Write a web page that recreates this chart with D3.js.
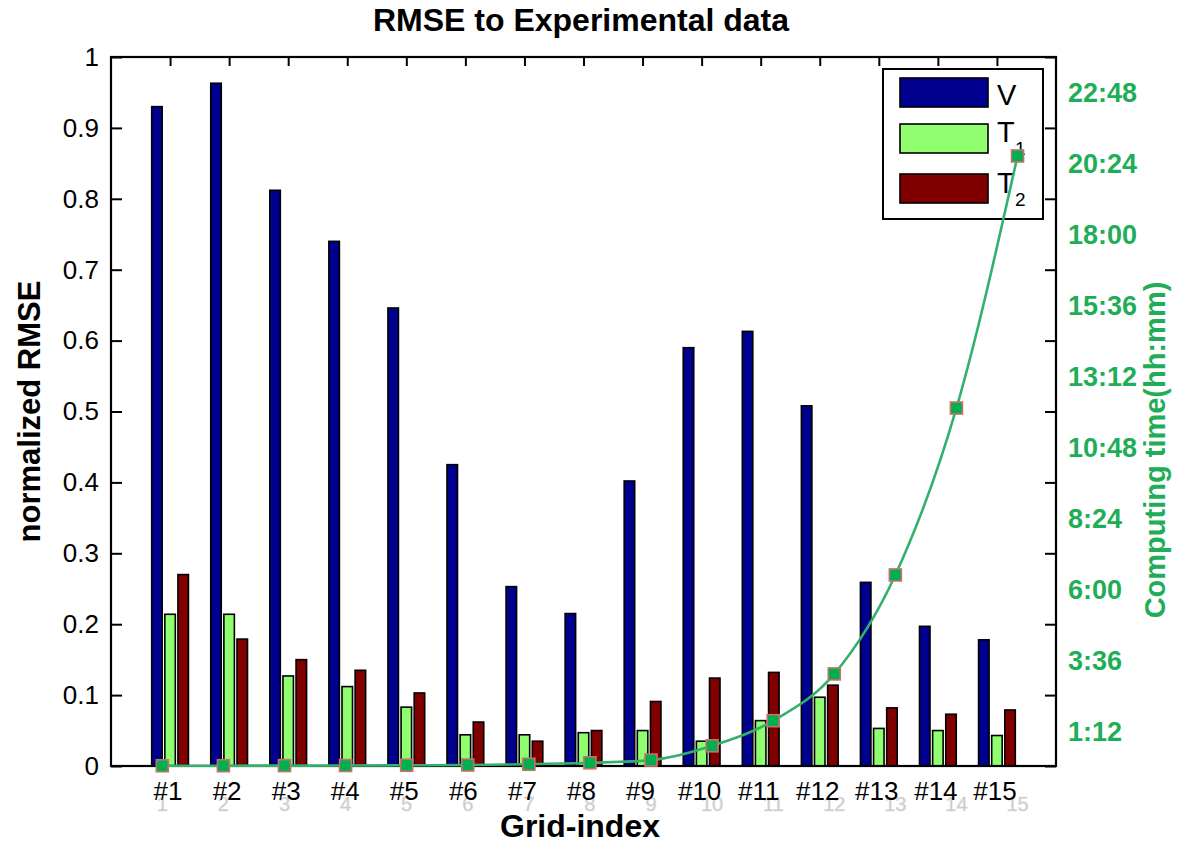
<!DOCTYPE html>
<html>
<head>
<meta charset="utf-8">
<script src="https://cdn.jsdelivr.net/npm/d3@7"></script>
<style>
  html, body { margin: 0; padding: 0; background: #fff; }
  svg { display: block; font-family: "Liberation Sans", Arial, sans-serif; }
</style>
</head>
<body>
<svg id="chart" width="1178" height="844"></svg>
<script>
// ---- data ----
const categories = ["#1","#2","#3","#4","#5","#6","#7","#8","#9","#10","#11","#12","#13","#14","#15"];
const ghostLabels = ["1","2","3","4","5","6","7","8","9","10","11","12","13","14","15"];
const seriesNames = ["V", "T1", "T2"];
const valuesV  = [0.930, 0.963, 0.812, 0.740, 0.646, 0.425, 0.253, 0.215, 0.402, 0.590, 0.613, 0.508, 0.259, 0.197, 0.178];
const valuesT1 = [0.214, 0.214, 0.127, 0.112, 0.083, 0.044, 0.044, 0.047, 0.050, 0.035, 0.064, 0.097, 0.053, 0.050, 0.043];
const valuesT2 = [0.270, 0.179, 0.150, 0.135, 0.103, 0.062, 0.035, 0.050, 0.091, 0.124, 0.132, 0.114, 0.082, 0.073, 0.079];
// computing time in minutes
const computeMinutes = [0.5, 0.6, 0.8, 1, 1.5, 2, 3.5, 6.5, 12, 41, 92, 187, 388, 727, 1239];
const leftTickLabels = ["0","0.1","0.2","0.3","0.4","0.5","0.6","0.7","0.8","0.9","1"];
const rightTickLabels = ["1:12","3:36","6:00","8:24","10:48","13:12","15:36","18:00","20:24","22:48"];
const colors = ["#00008f", "#8fff70", "#800000"];

// ---- layout ----
const svg = d3.select("#chart");
const X0 = 111, X1 = 1056, Y0 = 57, Y1 = 766;

const xBar = d3.scaleLinear().domain([0, 16]).range([X0, X1]);
const xLine = d3.scaleLinear().domain([0.16, 15.63]).range([X0, X1]);
const y = d3.scaleLinear().domain([0, 1]).range([Y1, Y0]);
const yTime = d3.scaleLinear().domain([0, 1440]).range([Y1, Y0]);

const toMin = s => { const [h, m] = s.split(":").map(Number); return h * 60 + m; };

// title
svg.append("text").attr("x", 581).attr("y", 31).attr("text-anchor", "middle")
  .attr("font-weight", "bold").attr("font-size", 32).text("RMSE to Experimental data");

// bars
const groupW = 3 / 4.5;          // MATLAB grouped bar width
const step = groupW / 3;
const barW = step * 0.8;
const series = [valuesV, valuesT1, valuesT2];
const pxPerUnit = xBar(1) - xBar(0);
series.forEach((vals, s) => {
  svg.append("g").selectAll("rect").data(vals).join("rect")
    .attr("x", (d, i) => xBar(i + 1 + (s - 1) * step - barW / 2))
    .attr("width", barW * pxPerUnit)
    .attr("y", d => y(d))
    .attr("height", d => y(0) - y(d))
    .attr("fill", colors[s]).attr("stroke", "#000").attr("stroke-width", 1.6);
});

// frame
svg.append("rect").attr("x", X0).attr("y", Y0).attr("width", X1 - X0).attr("height", Y1 - Y0)
  .attr("fill", "none").attr("stroke", "#000").attr("stroke-width", 2.2);

// left axis
const yAxis = d3.axisLeft(y).tickValues(leftTickLabels.map(Number))
  .tickFormat((d, i) => leftTickLabels[i]).tickSize(-11).tickPadding(12);
const gL = svg.append("g").attr("transform", `translate(${X0},0)`).call(yAxis);
gL.select(".domain").remove();
gL.selectAll("line").attr("stroke", "#000").attr("stroke-width", 2);
gL.selectAll("text").attr("font-size", 26).attr("fill", "#000").attr("font-family", "Liberation Sans, Arial, sans-serif");

// right edge inward ticks (mirrors)
const gR = svg.append("g").attr("transform", `translate(${X1},0)`)
  .call(d3.axisRight(y).tickValues(leftTickLabels.map(Number)).tickSize(-11).tickFormat(""));
gR.select(".domain").remove();
gR.selectAll("line").attr("stroke", "#000").attr("stroke-width", 2);

// top edge inward ticks
const gT = svg.append("g").attr("transform", `translate(0,${Y0})`)
  .call(d3.axisTop(xBar).tickValues(d3.range(1, 16)).tickSize(-9).tickFormat(""));
gT.select(".domain").remove();
gT.selectAll("line").attr("stroke", "#000").attr("stroke-width", 2);

// ghost labels from second axes
svg.append("g").selectAll("text").data(ghostLabels).join("text")
  .attr("x", (d, i) => xLine(i + 1)).attr("y", 811).attr("text-anchor", "middle")
  .attr("font-size", 20).attr("fill", "#c4c4c4").attr("stroke", "#e0e0e0").attr("stroke-width", 0.6)
  .text(d => d);

// bottom category labels
svg.append("g").selectAll("text").data(categories).join("text")
  .attr("x", (d, i) => xBar(i + 1) - 2).attr("y", 800).attr("text-anchor", "middle")
  .attr("font-size", 26).attr("fill", "#000").text(d => d);

// axis titles
svg.append("text").attr("x", 580).attr("y", 837).attr("text-anchor", "middle")
  .attr("font-weight", "bold").attr("font-size", 32).text("Grid-index");
svg.append("text").attr("transform", `translate(40,${(Y0 + Y1) / 2}) rotate(-90)`)
  .attr("text-anchor", "middle").attr("font-weight", "bold").attr("font-size", 31)
  .text("normalized RMSE");

// legend
const lg = svg.append("g");
lg.append("rect").attr("x", 883).attr("y", 69).attr("width", 160).attr("height", 150)
  .attr("fill", "#fff").attr("stroke", "#000").attr("stroke-width", 2);
const legY = [78, 124, 174];
seriesNames.forEach((n, i) => {
  lg.append("rect").attr("x", 900).attr("y", legY[i]).attr("width", 88).attr("height", 29)
    .attr("fill", colors[i]).attr("stroke", "#000").attr("stroke-width", 1.6);
});
lg.append("text").attr("x", 997).attr("y", 105).attr("font-size", 29).text("V");
lg.append("text").attr("x", 997).attr("y", 142).attr("font-size", 29).text("T");
lg.append("text").attr("x", 1015).attr("y", 155).attr("font-size", 19).text("1");
lg.append("text").attr("x", 997).attr("y", 193).attr("font-size", 29).text("T");
lg.append("text").attr("x", 1015).attr("y", 206).attr("font-size", 19).text("2");

// right time axis labels
const green = "#1fae57";
svg.append("g").selectAll("text").data(rightTickLabels).join("text")
  .attr("x", 1068).attr("y", d => yTime(toMin(d)) + 10)
  .attr("font-size", 27).attr("font-weight", "bold").attr("fill", green).text(d => d);
svg.append("text").attr("transform", `translate(1165,450) rotate(-90)`)
  .attr("text-anchor", "middle").attr("font-weight", "bold").attr("font-size", 29)
  .attr("fill", green).text("Computing time(hh:mm)");

// computing time line
const pts = computeMinutes.map((m, i) => [xLine(i + 1), yTime(m)]);
svg.append("path").attr("d", d3.line().curve(d3.curveMonotoneX)(pts))
  .attr("fill", "none").attr("stroke", "#33b06c").attr("stroke-width", 2.6);
svg.append("g").selectAll("rect").data(computeMinutes).join("rect")
  .attr("x", (d, i) => xLine(i + 1) - 6).attr("y", d => yTime(d) - 6)
  .attr("width", 12).attr("height", 12)
  .attr("fill", "#00b050").attr("stroke", "#c9706a").attr("stroke-width", 1.6);
</script>
</body>
</html>
